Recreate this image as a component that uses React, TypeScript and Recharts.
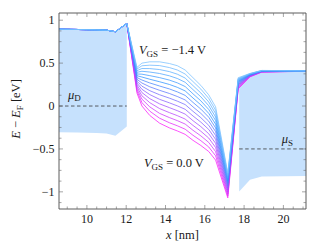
import React from 'react';
import { ComposedChart, Line, Area, XAxis, YAxis, ReferenceDot } from 'recharts';

// ---------- data ----------
const X_BASE = [8.58, 9.5, 10.5, 11.0, 11.45, 12.03];
const E_BASE = [0.895, 0.892, 0.887, 0.884, 0.866, 0.962];
const X_CH = [12.55, 12.8, 13.2, 13.7, 14.2, 14.6, 15.0, 15.4, 15.8, 16.2, 16.55, 17.17, 17.7, 18.3, 18.9, 21.15];

const VGS = [-1.4, -1.3, -1.2, -1.1, -1.0, -0.9, -0.8, -0.7, -0.6, -0.5, -0.4, -0.3, -0.2, -0.1, 0.0];

const E_m14 = [0.45, 0.5, 0.515, 0.515, 0.495, 0.47, 0.42, 0.33, 0.24, 0.13, -0.01, -0.78, 0.33, 0.38, 0.415, 0.41];
const E_m13 = [0.431, 0.469, 0.476, 0.471, 0.448, 0.42, 0.373, 0.285, 0.197, 0.089, -0.049, -0.798, 0.322, 0.377, 0.414, 0.41];
const E_m12 = [0.412, 0.437, 0.436, 0.425, 0.401, 0.371, 0.326, 0.238, 0.152, 0.047, -0.088, -0.817, 0.314, 0.374, 0.412, 0.41];
const E_m11 = [0.393, 0.405, 0.396, 0.379, 0.352, 0.321, 0.277, 0.191, 0.107, 0.004, -0.128, -0.835, 0.305, 0.372, 0.411, 0.409];
const E_m10 = [0.373, 0.371, 0.354, 0.331, 0.302, 0.27, 0.227, 0.142, 0.06, -0.04, -0.169, -0.855, 0.297, 0.369, 0.41, 0.409];
const E_m09 = [0.353, 0.338, 0.312, 0.283, 0.251, 0.218, 0.176, 0.093, 0.013, -0.085, -0.212, -0.874, 0.288, 0.366, 0.408, 0.409];
const E_m08 = [0.332, 0.303, 0.269, 0.233, 0.199, 0.165, 0.124, 0.042, -0.036, -0.13, -0.255, -0.894, 0.279, 0.363, 0.407, 0.408];
const E_m07 = [0.311, 0.268, 0.224, 0.183, 0.146, 0.111, 0.071, -0.01, -0.086, -0.177, -0.298, -0.915, 0.27, 0.361, 0.406, 0.408];
const E_m06 = [0.289, 0.231, 0.179, 0.131, 0.092, 0.057, 0.017, -0.062, -0.136, -0.225, -0.343, -0.936, 0.26, 0.358, 0.404, 0.408];
const E_m05 = [0.267, 0.195, 0.133, 0.078, 0.037, 0.002, -0.038, -0.116, -0.188, -0.273, -0.389, -0.957, 0.251, 0.355, 0.403, 0.407];
const E_m04 = [0.244, 0.157, 0.086, 0.025, -0.019, -0.054, -0.094, -0.171, -0.24, -0.323, -0.435, -0.979, 0.241, 0.353, 0.401, 0.407];
const E_m03 = [0.221, 0.119, 0.039, -0.03, -0.077, -0.112, -0.152, -0.226, -0.294, -0.373, -0.483, -1.001, 0.231, 0.35, 0.4, 0.406];
const E_m02 = [0.198, 0.08, -0.01, -0.086, -0.135, -0.17, -0.21, -0.283, -0.348, -0.424, -0.531, -1.024, 0.221, 0.347, 0.399, 0.406];
const E_m01 = [0.174, 0.04, -0.06, -0.142, -0.195, -0.23, -0.27, -0.341, -0.404, -0.477, -0.58, -1.047, 0.21, 0.344, 0.397, 0.406];
const E_00 = [0.15, 0.0, -0.11, -0.2, -0.255, -0.29, -0.33, -0.4, -0.46, -0.53, -0.63, -1.07, 0.2, 0.34, 0.395, 0.405];

const SERIES = [E_m14, E_m13, E_m12, E_m11, E_m10, E_m09, E_m08, E_m07, E_m06, E_m05, E_m04, E_m03, E_m02, E_m01, E_00];

const LEFT_X = [8.58, 9.5, 10.5, 11.0, 11.45, 12.03];
const LEFT_TOP = [0.895, 0.892, 0.887, 0.884, 0.866, 0.962];
const LEFT_BOT = [-0.305, -0.308, -0.313, -0.32, -0.345, -0.24];

const RIGHT_X = [17.75, 18.3, 18.9, 21.15];
const RIGHT_TOP = [0.322, 0.36, 0.407, 0.41];
const RIGHT_BOT = [-0.996, -0.86, -0.82, -0.815];

const MU_D_X = [8.58, 12.03];
const MU_D_E = [0, 0];
const MU_S_X = [17.75, 21.15];
const MU_S_E = [-0.5, -0.5];

const X_TICKS = [9, 9.5, 10, 10.5, 11, 11.5, 12, 12.5, 13, 13.5, 14, 14.5, 15, 15.5, 16, 16.5, 17, 17.5, 18, 18.5, 19, 19.5, 20, 20.5, 21];
const Y_TICKS = [-1.125, -1, -0.875, -0.75, -0.625, -0.5, -0.375, -0.25, -0.125, 0, 0.125, 0.25, 0.375, 0.5, 0.625, 0.75, 0.875, 1];

const X_DOMAIN = [8.58, 21.15];
const Y_DOMAIN = [-1.2, 1.084];

// ---------- derived tables ----------
const X_ALL = [...X_BASE, ...X_CH];
const lineData = X_ALL.map((x, j) => {
  const row: any = { x };
  SERIES.forEach((s, i) => {
    row['s' + i] = j < X_BASE.length ? E_BASE[j] : s[j - X_BASE.length];
  });
  return row;
});
const leftArea = LEFT_X.map((x, j) => ({ x, r: [LEFT_BOT[j], LEFT_TOP[j]] }));
const rightArea = RIGHT_X.map((x, j) => ({ x, r: [RIGHT_BOT[j], RIGHT_TOP[j]] }));
const muD = MU_D_X.map((x, j) => ({ x, y: MU_D_E[j] }));
const muS = MU_S_X.map((x, j) => ({ x, y: MU_S_E[j] }));

// ---------- styles ----------
const FONT = "'Liberation Serif', 'Times New Roman', serif";
const TXT = '#1a1a1a';
const TICK = '#6a6a6a';
const FRAME = '#4a4a4a';
const FILL = '#c6e1fd';

const STOPS = [
  { t: 0, c: [120, 192, 255] },
  { t: 5 / 14, c: [45, 145, 255] },
  { t: 1, c: [250, 25, 250] },
];
function colorAt(i: number, n: number) {
  const t = n <= 1 ? 0 : i / (n - 1);
  let a = STOPS[0], b = STOPS[STOPS.length - 1];
  for (let k = 0; k < STOPS.length - 1; k++) {
    if (t >= STOPS[k].t && t <= STOPS[k + 1].t) { a = STOPS[k]; b = STOPS[k + 1]; break; }
  }
  const u = (t - a.t) / (b.t - a.t || 1);
  const c = a.c.map((v, k) => Math.round(v + (b.c[k] - v) * u));
  return `rgb(${c[0]},${c[1]},${c[2]})`;
}

const isMajorX = (v: number) => Math.abs(v / 2 - Math.round(v / 2)) < 1e-6;
const isMajorY = (v: number) => Math.abs(v * 2 - Math.round(v * 2)) < 1e-6;
const fmtY = (v: number) => (v === 0 ? '0' : v < 0 ? '\u2212' + String(Math.abs(v)) : String(v));

const BottomTick = (p: any) => {
  const v = p.payload.value;
  const m = isMajorX(v);
  return (
    <g>
      <line x1={p.x} x2={p.x} y1={p.y} y2={p.y - (m ? 4 : 2.5)} stroke={TICK} strokeWidth={0.6} />
      {m && (
        <text x={p.x} y={p.y + 13.5} textAnchor="middle" fontSize={12} fontFamily={FONT} fill={TXT}>
          {String(v)}
        </text>
      )}
    </g>
  );
};
const TopTick = (p: any) => {
  const m = isMajorX(p.payload.value);
  return <line x1={p.x} x2={p.x} y1={p.y} y2={p.y + (m ? 4 : 2.5)} stroke={TICK} strokeWidth={0.6} />;
};
const LeftTick = (p: any) => {
  const v = p.payload.value;
  const m = isMajorY(v);
  return (
    <g>
      <line x1={p.x} x2={p.x + (m ? 4 : 2.5)} y1={p.y} y2={p.y} stroke={TICK} strokeWidth={0.6} />
      {m && (
        <text x={p.x - 4.5} y={p.y + 4} textAnchor="end" fontSize={12} fontFamily={FONT} fill={TXT}>
          {fmtY(v)}
        </text>
      )}
    </g>
  );
};
const RightTick = (p: any) => {
  const m = isMajorY(p.payload.value);
  return <line x1={p.x} x2={p.x - (m ? 4 : 2.5)} y1={p.y} y2={p.y} stroke={TICK} strokeWidth={0.6} />;
};

const YLabel = (props: any) => {
  const vb = props.viewBox || { x: 0, y: 0, width: 0, height: 0 };
  const cx = vb.x + 20;
  const cy = vb.y + vb.height / 2 - 2;
  return (
    <text x={cx} y={cy} transform={`rotate(-90 ${cx} ${cy})`} textAnchor="middle" fontSize={12.5} fontFamily={FONT} fill={TXT}>
      <tspan fontStyle="italic">E</tspan>
      <tspan>{' \u2212 '}</tspan>
      <tspan fontStyle="italic">E</tspan>
      <tspan fontSize={9} dy={2.5}>F</tspan>
      <tspan dy={-2.5}>{' [eV]'}</tspan>
    </text>
  );
};
const XLabel = (props: any) => {
  const vb = props.viewBox || { x: 0, y: 0, width: 0, height: 0 };
  return (
    <text x={vb.x + vb.width / 2} y={vb.y + 30} textAnchor="middle" fontSize={12.5} fontFamily={FONT} fill={TXT}>
      <tspan fontStyle="italic">x</tspan>
      <tspan>{' [nm]'}</tspan>
    </text>
  );
};

const vgsShape = (text: string) => (p: any) => (
  <text x={p.cx} y={p.cy} fontSize={12.5} fontFamily={FONT} fill={TXT}>
    <tspan fontStyle="italic">V</tspan>
    <tspan fontSize={9} dy={2.5}>GS</tspan>
    <tspan dy={-2.5}>{text}</tspan>
  </text>
);
const muShape = (sub: string) => (p: any) => (
  <text x={p.cx} y={p.cy} fontSize={12.5} fontFamily={FONT} fill={TXT}>
    <tspan fontStyle="italic">{'\u03bc'}</tspan>
    <tspan fontSize={9} dy={2.5}>{sub}</tspan>
  </text>
);

export default function App() {
  const n = SERIES.length;
  const order = SERIES.map((_, i) => i).reverse();
  return (
    <div style={{ position: 'absolute', left: 0, top: 0, width: 311, height: 251, background: '#fff' }}>
      <ComposedChart width={311} height={251} data={lineData} margin={{ top: 0, right: 0, bottom: 0, left: 0 }}>
        <XAxis
          xAxisId="b" dataKey="x" type="number" orientation="bottom" domain={X_DOMAIN} allowDataOverflow
          ticks={X_TICKS} interval={0} height={42} tickSize={0} tickMargin={0} tickLine={false}
          tick={<BottomTick />} axisLine={{ stroke: FRAME, strokeWidth: 0.9 }} label={XLabel}
        />
        <XAxis
          xAxisId="t" dataKey="x" type="number" orientation="top" domain={X_DOMAIN} allowDataOverflow
          ticks={X_TICKS} interval={0} height={13} tickSize={0} tickMargin={0} tickLine={false}
          tick={<TopTick />} axisLine={{ stroke: FRAME, strokeWidth: 0.9 }}
        />
        <YAxis
          yAxisId="l" type="number" orientation="left" domain={Y_DOMAIN} allowDataOverflow
          ticks={Y_TICKS} interval={0} width={59} tickSize={0} tickMargin={0} tickLine={false}
          tick={<LeftTick />} axisLine={{ stroke: FRAME, strokeWidth: 0.9 }} label={YLabel}
        />
        <YAxis
          yAxisId="r" type="number" orientation="right" domain={Y_DOMAIN} allowDataOverflow
          ticks={Y_TICKS} interval={0} width={5} tickSize={0} tickMargin={0} tickLine={false}
          tick={<RightTick />} axisLine={{ stroke: FRAME, strokeWidth: 0.9 }}
        />
        <Area data={leftArea} dataKey="r" xAxisId="b" yAxisId="l" type="linear" fill={FILL} fillOpacity={1} stroke="none" isAnimationActive={false} />
        <Area data={rightArea} dataKey="r" xAxisId="b" yAxisId="l" type="linear" fill={FILL} fillOpacity={1} stroke="none" isAnimationActive={false} />
        {order.map((i) => (
          <Line
            key={'s' + i} dataKey={'s' + i} name={`VGS=${VGS[i]}`} xAxisId="b" yAxisId="l" type="linear"
            stroke={colorAt(i, n)} strokeWidth={0.75} dot={false} activeDot={false} isAnimationActive={false}
          />
        ))}
        <Line data={muD} dataKey="y" xAxisId="b" yAxisId="l" type="linear" stroke="#3a3a3a" strokeWidth={0.8} strokeDasharray="3.5 2.5" dot={false} isAnimationActive={false} />
        <Line data={muS} dataKey="y" xAxisId="b" yAxisId="l" type="linear" stroke="#3a3a3a" strokeWidth={0.8} strokeDasharray="3.5 2.5" dot={false} isAnimationActive={false} />
        <ReferenceDot xAxisId="b" yAxisId="l" x={12.65} y={0.606} r={0} shape={vgsShape(' = \u22121.4 V')} />
        <ReferenceDot xAxisId="b" yAxisId="l" x={12.9} y={-0.711} r={0} shape={vgsShape(' = 0.0 V')} />
        <ReferenceDot xAxisId="b" yAxisId="l" x={9.04} y={0.082} r={0} shape={muShape('D')} />
        <ReferenceDot xAxisId="b" yAxisId="l" x={19.91} y={-0.431} r={0} shape={muShape('S')} />
      </ComposedChart>
    </div>
  );
}
